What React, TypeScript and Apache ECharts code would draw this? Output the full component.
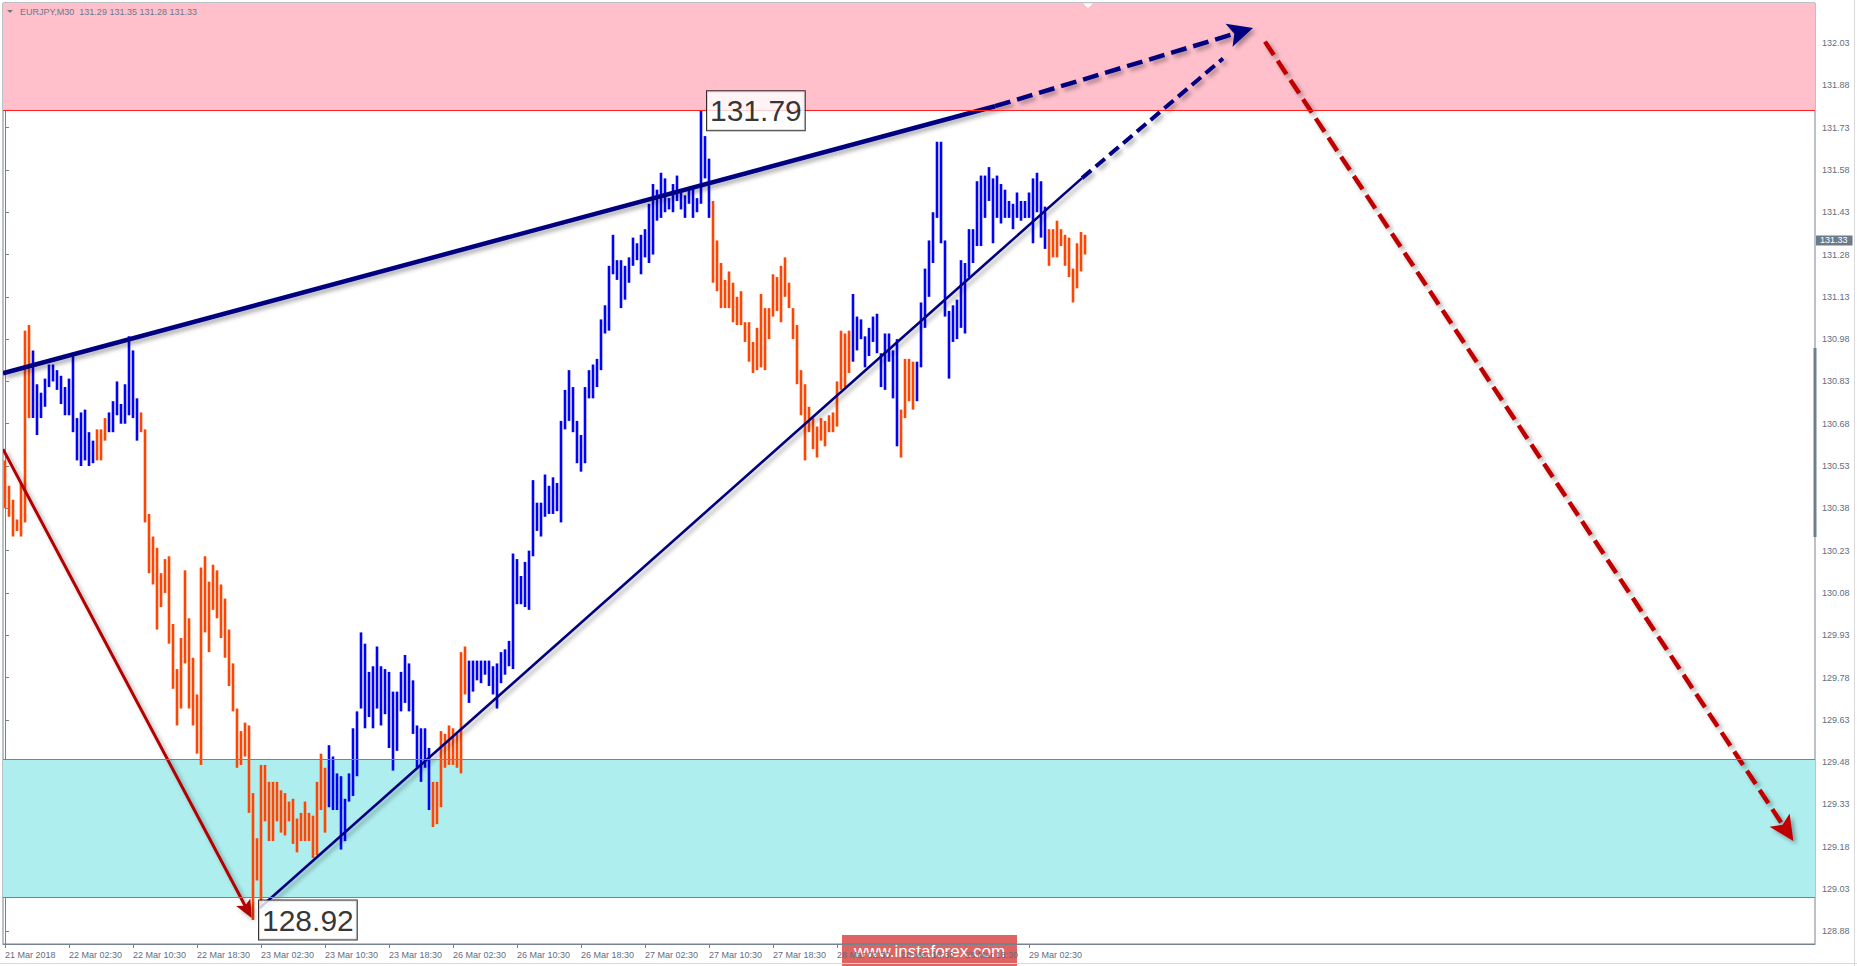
import React, { useEffect, useRef } from 'react';
import * as echarts from 'echarts';

// ---------- data ----------
const symbolTitle = 'EURJPY,M30';
const lastBarOHLC = [131.29, 131.35, 131.28, 131.33];

const xTickLabels = [
  '21 Mar 2018', '22 Mar 02:30', '22 Mar 10:30', '22 Mar 18:30', '23 Mar 02:30',
  '23 Mar 10:30', '23 Mar 18:30', '26 Mar 02:30', '26 Mar 10:30', '26 Mar 18:30',
  '27 Mar 02:30', '27 Mar 10:30', '27 Mar 18:30', '28 Mar 02:30', '28 Mar 10:30',
  '28 Mar 18:30', '29 Mar 02:30',
];
const barsPerLabel = 16;
const totalSlots = 453;

const priceTicks = [
  128.88, 129.03, 129.18, 129.33, 129.48, 129.63, 129.78, 129.93, 130.08, 130.23, 130.38,
  130.53, 130.68, 130.83, 130.98, 131.13, 131.28, 131.43, 131.58, 131.73, 131.88, 132.03,
];
const priceMin = 128.835;
const priceMax = 132.172;

const highs = [
  130.55, 130.46, 130.41, 130.34, 130.47, 131.01, 131.03, 130.94, 130.82, 130.79,
  130.84, 130.89, 130.89, 130.87, 130.85, 130.81, 130.84, 130.92, 130.70, 130.72,
  130.73, 130.65, 130.62, 130.66, 130.66, 130.70, 130.72, 130.76, 130.83, 130.75,
  130.82, 130.99, 130.94, 130.77, 130.72, 130.66, 130.36, 130.28, 130.24, 130.15,
  130.20, 130.21, 129.97, 129.81, 129.92, 130.16, 129.99, 129.85, 129.72, 130.17,
  130.21, 130.12, 130.18, 130.16, 130.11, 130.06, 129.95, 129.83, 129.67, 129.59,
  129.62, 129.61, 129.37, 129.21, 129.47, 129.47, 129.41, 129.41, 129.41, 129.38,
  129.37, 129.34, 129.35, 129.28, 129.30, 129.34, 129.30, 129.29, 129.41, 129.51,
  129.46, 129.54, 129.50, 129.44, 129.43, 129.35, 129.44, 129.60, 129.66, 129.94,
  129.90, 129.80, 129.82, 129.89, 129.82, 129.81, 129.80, 129.73, 129.73, 129.80,
  129.86, 129.83, 129.77, 129.61, 129.60, 129.60, 129.53, 129.41, 129.41, 129.59,
  129.58, 129.61, 129.60, 129.58, 129.87, 129.89, 129.84, 129.84, 129.84, 129.84,
  129.84, 129.84, 129.82, 129.83, 129.87, 129.88, 129.91, 130.22, 130.20, 130.14,
  130.19, 130.23, 130.48, 130.40, 130.40, 130.50, 130.46, 130.49, 130.47, 130.69,
  130.80, 130.87, 130.81, 130.69, 130.64, 130.81, 130.87, 130.89, 130.91, 131.05,
  131.10, 131.24, 131.35, 131.26, 131.26, 131.24, 131.27, 131.34, 131.32, 131.35,
  131.37, 131.46, 131.53, 131.51, 131.57, 131.55, 131.48, 131.53, 131.56, 131.51,
  131.49, 131.51, 131.52, 131.48, 131.79, 131.70, 131.62, 131.47, 131.33, 131.25,
  131.19, 131.22, 131.18, 131.13, 131.15, 131.04, 131.04, 130.97, 131.02, 131.14,
  131.09, 131.09, 131.21, 131.20, 131.24, 131.27, 131.18, 131.09, 131.03, 130.87,
  130.82, 130.74, 130.70, 130.67, 130.70, 130.69, 130.71, 130.72, 130.83, 131.01,
  131.00, 131.01, 131.14, 131.06, 131.05, 130.99, 131.02, 131.06, 131.07, 130.93,
  131.00, 131.00, 130.94, 130.98, 130.73, 130.91, 130.91, 130.90, 130.90, 131.11,
  131.23, 131.33, 131.43, 131.68, 131.68, 131.33, 131.08, 131.10, 131.12, 131.26,
  131.25, 131.37, 131.37, 131.54, 131.56, 131.56, 131.59, 131.55, 131.56, 131.53,
  131.51, 131.47, 131.46, 131.50, 131.47, 131.47, 131.50, 131.55, 131.57, 131.54,
  131.45, 131.37, 131.37, 131.40, 131.37, 131.35, 131.34, 131.23, 131.32, 131.36, 131.35,
];

const lows = [
  130.38, 130.35, 130.28, 130.30, 130.28, 130.33, 130.70, 130.70, 130.64, 130.70,
  130.74, 130.81, 130.83, 130.80, 130.75, 130.71, 130.71, 130.65, 130.55, 130.53,
  130.55, 130.53, 130.54, 130.55, 130.55, 130.62, 130.65, 130.65, 130.71, 130.68,
  130.68, 130.71, 130.70, 130.62, 130.65, 130.33, 130.15, 130.11, 129.95, 130.03,
  130.08, 129.90, 129.74, 129.61, 129.67, 129.83, 129.67, 129.61, 129.51, 129.47,
  129.94, 129.87, 130.02, 129.99, 129.92, 129.85, 129.75, 129.66, 129.46, 129.47,
  129.50, 129.30, 128.92, 129.06, 128.97, 129.27, 129.20, 129.20, 129.27, 129.23,
  129.22, 129.27, 129.19, 129.16, 129.20, 129.20, 129.20, 129.14, 129.15, 129.31,
  129.23, 129.32, 129.31, 129.31, 129.17, 129.20, 129.34, 129.36, 129.43, 129.67,
  129.60, 129.64, 129.60, 129.67, 129.61, 129.65, 129.53, 129.45, 129.52, 129.66,
  129.69, 129.66, 129.58, 129.46, 129.41, 129.46, 129.31, 129.25, 129.26, 129.32,
  129.46, 129.47, 129.47, 129.46, 129.44, 129.72, 129.69, 129.73, 129.77, 129.76,
  129.79, 129.75, 129.72, 129.67, 129.76, 129.79, 129.82, 129.81, 130.04, 130.04,
  130.03, 130.02, 130.21, 130.30, 130.28, 130.35, 130.36, 130.36, 130.37, 130.33,
  130.66, 130.69, 130.65, 130.54, 130.51, 130.54, 130.77, 130.77, 130.81, 130.87,
  131.00, 131.01, 131.21, 131.19, 131.09, 131.12, 131.18, 131.24, 131.26, 131.21,
  131.27, 131.25, 131.28, 131.40, 131.41, 131.43, 131.44, 131.43, 131.47, 131.44,
  131.41, 131.46, 131.41, 131.43, 131.46, 131.55, 131.41, 131.18, 131.15, 131.09,
  131.09, 131.09, 131.04, 131.03, 131.03, 130.97, 130.90, 130.86, 130.87, 130.88,
  130.87, 130.98, 131.06, 131.08, 131.04, 131.13, 131.09, 130.98, 130.82, 130.71,
  130.55, 130.65, 130.59, 130.56, 130.62, 130.60, 130.65, 130.65, 130.67, 130.80,
  130.81, 130.86, 130.90, 130.94, 130.98, 130.88, 130.92, 130.97, 130.93, 130.81,
  130.80, 130.90, 130.77, 130.60, 130.56, 130.70, 130.76, 130.73, 130.76, 130.88,
  131.02, 131.13, 131.25, 131.41, 131.32, 131.06, 130.84, 130.97, 130.98, 131.02,
  131.00, 131.20, 131.25, 131.31, 131.31, 131.41, 131.47, 131.32, 131.41, 131.39,
  131.41, 131.41, 131.37, 131.41, 131.40, 131.41, 131.41, 131.32, 131.43, 131.34,
  131.30, 131.24, 131.27, 131.27, 131.31, 131.24, 131.20, 131.11, 131.16, 131.22, 131.28,
];

// wave segments: first bar index of each segment, and its direction
const waveStarts = [0, 7, 23, 26, 34, 81, 107, 116, 177, 212, 224, 228, 261];
const waveDirs = ['down', 'up', 'down', 'up', 'down', 'up', 'down', 'up', 'down', 'up', 'down', 'up', 'down'];

const resistanceZone = [131.79, priceMax];
const supportZone = [129.0, 129.49];
const currentPrice = 131.33;

const extremeLabels = [
  [174, 131.79],
  [62, 128.92],
];

// drawn trend lines: [barIndex1, price1, barIndex2, price2]
const trendLineCoords = [
  [-0.5, 130.859, 247.5, 131.806],
  [247.5, 131.806, 312, 132.083],
  [63.6, 128.962, 269.25, 131.551],
  [269.25, 131.551, 304.5, 131.975],
  [-0.5, 130.59, 61.67, 128.927],
  [315, 132.035, 447.1, 129.2],
];

// ---------- styles ----------
const FONT = "'Liberation Sans', Arial, sans-serif";
const AXIS_GREY = '#76838F';
const TEXT_GREY = '#5F6E7E';
const UP_COLOR = '#0000FF';
const DOWN_COLOR = '#FF4500';

const trendLineStyles = [
  { color: '#000080', width: 4.5, dash: null, head: null },
  { color: '#000080', width: 4.5, dash: [16, 7], head: [25, 12] },
  { color: '#000080', width: 2.6, dash: null, head: null },
  { color: '#000080', width: 4, dash: [12, 6], head: null },
  { color: '#B30000', width: 3, dash: null, head: [18, 8] },
  { color: '#C00000', width: 4.5, dash: [16, 7], head: [25, 12] },
];

function dirOf(i: number): string {
  let d = waveDirs[0];
  for (let k = 0; k < waveStarts.length; k++) {
    if (i >= waveStarts[k]) d = waveDirs[k];
  }
  return d;
}

export default function App() {
  const ref = useRef<HTMLDivElement>(null);

  useEffect(() => {
    document.body.style.margin = '0';
    if (!ref.current) return;
    const chart = echarts.init(ref.current, null, { renderer: 'svg' });

    const barData = highs.map((h, i) => [i, h, lows[i], dirOf(i) === 'up' ? 1 : 0]);
    const labelIdx = xTickLabels.map((_, k) => k * barsPerLabel);

    const shadow = {
      shadowBlur: 4,
      shadowColor: 'rgba(0,0,0,0.33)',
      shadowOffsetX: 3,
      shadowOffsetY: 3,
    };

    const option: any = {
      animation: false,
      backgroundColor: '#ffffff',
      grid: {
        left: 3,
        right: 42,
        top: 3,
        bottom: 22,
        show: true,
        borderColor: AXIS_GREY,
        borderWidth: 1,
        backgroundColor: 'transparent',
        containLabel: false,
        outerBoundsMode: 'none',
      },
      xAxis: {
        type: 'value',
        min: -0.5,
        max: totalSlots - 0.5,
        axisLine: { show: true, lineStyle: { color: AXIS_GREY, width: 1 } },
        axisTick: { show: true, length: 4, lineStyle: { color: AXIS_GREY }, customValues: labelIdx },
        axisLabel: {
          show: true,
          customValues: labelIdx,
          formatter: (v: number) => xTickLabels[Math.round(v / barsPerLabel)] || '',
          align: 'left',
          margin: 6,
          fontSize: 9,
          fontFamily: FONT,
          color: TEXT_GREY,
        },
        splitLine: { show: false },
      },
      yAxis: {
        type: 'value',
        position: 'right',
        min: priceMin,
        max: priceMax,
        scale: true,
        axisLine: { show: true, lineStyle: { color: AXIS_GREY, width: 1 } },
        axisTick: { show: true, length: 4, lineStyle: { color: AXIS_GREY }, customValues: priceTicks },
        axisLabel: {
          show: true,
          customValues: priceTicks,
          formatter: (v: number) => v.toFixed(2),
          margin: 7,
          fontSize: 9,
          fontFamily: FONT,
          color: TEXT_GREY,
        },
        splitLine: { show: false },
      },
      series: [
        {
          type: 'line',
          name: 'zones',
          data: [],
          z: 1,
          silent: true,
          markArea: {
            silent: true,
            data: [
              [
                { yAxis: resistanceZone[0], itemStyle: { color: '#FFC0CB' } },
                { yAxis: resistanceZone[1] },
              ],
              [
                { yAxis: supportZone[0], itemStyle: { color: '#AFEEEE' } },
                { yAxis: supportZone[1] },
              ],
            ],
          },
          markLine: {
            silent: true,
            symbol: ['none', 'none'],
            data: [
              { yAxis: resistanceZone[0], lineStyle: { color: '#FF2020', width: 1, type: 'solid' }, label: { show: false } },
              { yAxis: supportZone[0], lineStyle: { color: '#3B8EF5', width: 1, type: 'solid' }, label: { show: false } },
              { yAxis: supportZone[1], lineStyle: { color: '#3B8EF5', width: 1, type: 'solid' }, label: { show: false } },
              {
                yAxis: currentPrice,
                lineStyle: { color: 'rgba(0,0,0,0)', width: 0 },
                label: {
                  show: true,
                  position: 'end',
                  distance: 1,
                  formatter: currentPrice.toFixed(2),
                  backgroundColor: '#6B7B8C',
                  color: '#ffffff',
                  fontSize: 9,
                  fontFamily: FONT,
                  padding: [1, 5, 0, 4],
                },
              },
            ],
          },
        },
        {
          type: 'custom',
          name: 'bars',
          z: 3,
          clip: true,
          silent: true,
          data: barData,
          renderItem: (_params: any, api: any) => {
            const i = api.value(0);
            const top = api.coord([i, api.value(1)]);
            const bot = api.coord([i, api.value(2)]);
            const w = 2.6;
            return {
              type: 'rect',
              shape: { x: top[0] - w / 2, y: top[1], width: w, height: Math.max(1, bot[1] - top[1]) },
              style: { fill: api.value(3) === 1 ? UP_COLOR : DOWN_COLOR },
            };
          },
        },
        {
          type: 'custom',
          name: 'drawings',
          z: 4,
          clip: true,
          silent: true,
          data: trendLineCoords,
          renderItem: (params: any, api: any) => {
            const s = trendLineStyles[params.dataIndex];
            const p1 = api.coord([api.value(0), api.value(1)]);
            const p2 = api.coord([api.value(2), api.value(3)]);
            const dx = p2[0] - p1[0];
            const dy = p2[1] - p1[1];
            const len = Math.hypot(dx, dy) || 1;
            const ux = dx / len;
            const uy = dy / len;
            const nx = -uy;
            const ny = ux;
            const children: any[] = [];
            let ex = p2[0];
            let ey = p2[1];
            if (s.head) {
              ex = p2[0] - ux * s.head[0] * 0.7;
              ey = p2[1] - uy * s.head[0] * 0.7;
            }
            const lineStyle: any = { stroke: s.color, lineWidth: s.width, lineCap: 'butt', ...shadow };
            if (s.dash) lineStyle.lineDash = s.dash;
            children.push({ type: 'line', shape: { x1: p1[0], y1: p1[1], x2: ex, y2: ey }, style: lineStyle });
            if (s.head) {
              const L = s.head[0];
              const W = s.head[1];
              const bx = p2[0] - ux * L;
              const by = p2[1] - uy * L;
              const mx = p2[0] - ux * L * 0.78;
              const my = p2[1] - uy * L * 0.78;
              children.push({
                type: 'polygon',
                shape: {
                  points: [
                    [p2[0], p2[1]],
                    [bx + nx * W, by + ny * W],
                    [mx, my],
                    [bx - nx * W, by - ny * W],
                  ],
                },
                style: { fill: s.color, ...shadow },
              });
            }
            return { type: 'group', children };
          },
        },
        {
          type: 'scatter',
          name: 'extremes',
          z: 5,
          silent: true,
          symbolSize: 0,
          data: extremeLabels,
          label: {
            show: true,
            position: 'right',
            distance: 6,
            formatter: (p: any) => p.value[1].toFixed(2),
            fontSize: 30,
            lineHeight: 33,
            fontFamily: FONT,
            color: '#000000',
            backgroundColor: '#ffffff',
            borderColor: '#000000',
            borderWidth: 1,
            padding: [3, 3, 3, 3],
          },
        },
      ],
      graphic: [
        {
          type: 'polygon',
          silent: true,
          z: 10,
          shape: { points: [[7, 10], [13, 10], [10, 13]] },
          style: { fill: '#6B7888' },
        },
        {
          type: 'text',
          silent: true,
          z: 10,
          left: 20,
          top: 7,
          style: {
            text: symbolTitle + '  ' + lastBarOHLC.map((v) => v.toFixed(2)).join(' '),
            fontSize: 9,
            fontFamily: FONT,
            fill: '#6B7888',
          },
        },
        {
          type: 'polygon',
          silent: true,
          z: 10,
          shape: { points: [[1083, 3.5], [1093, 3.5], [1088, 8]] },
          style: { fill: '#ffffff' },
        },
        {
          type: 'rect',
          silent: true,
          z: 10,
          shape: { x: 1813.5, y: 348, width: 3, height: 189 },
          style: { fill: '#6E7F8E' },
        },
        {
          type: 'line',
          silent: true,
          z: 10,
          shape: { x1: 1854.5, y1: 0, x2: 1854.5, y2: 966 },
          style: { stroke: '#D9D9D9', lineWidth: 1 },
        },
        {
          type: 'line',
          silent: true,
          z: 10,
          shape: { x1: 0, y1: 963.5, x2: 1857, y2: 963.5 },
          style: { stroke: '#D9D9D9', lineWidth: 1 },
        },
        {
          type: 'group',
          silent: true,
          z: 20,
          children: [
            {
              type: 'rect',
              shape: { x: 842, y: 935, width: 175, height: 31 },
              style: { fill: 'rgba(216,72,72,0.85)' },
            },
            {
              type: 'text',
              x: 929.5,
              y: 951,
              style: {
                text: 'www.instaforex.com',
                fontSize: 17,
                fontFamily: FONT,
                fill: '#ffffff',
                align: 'center',
                verticalAlign: 'middle',
              },
            },
          ],
        },
      ],
    };

    chart.setOption(option);
    return () => {
      chart.dispose();
    };
  }, []);

  return <div ref={ref} style={{ width: 1857, height: 966 }} />;
}
